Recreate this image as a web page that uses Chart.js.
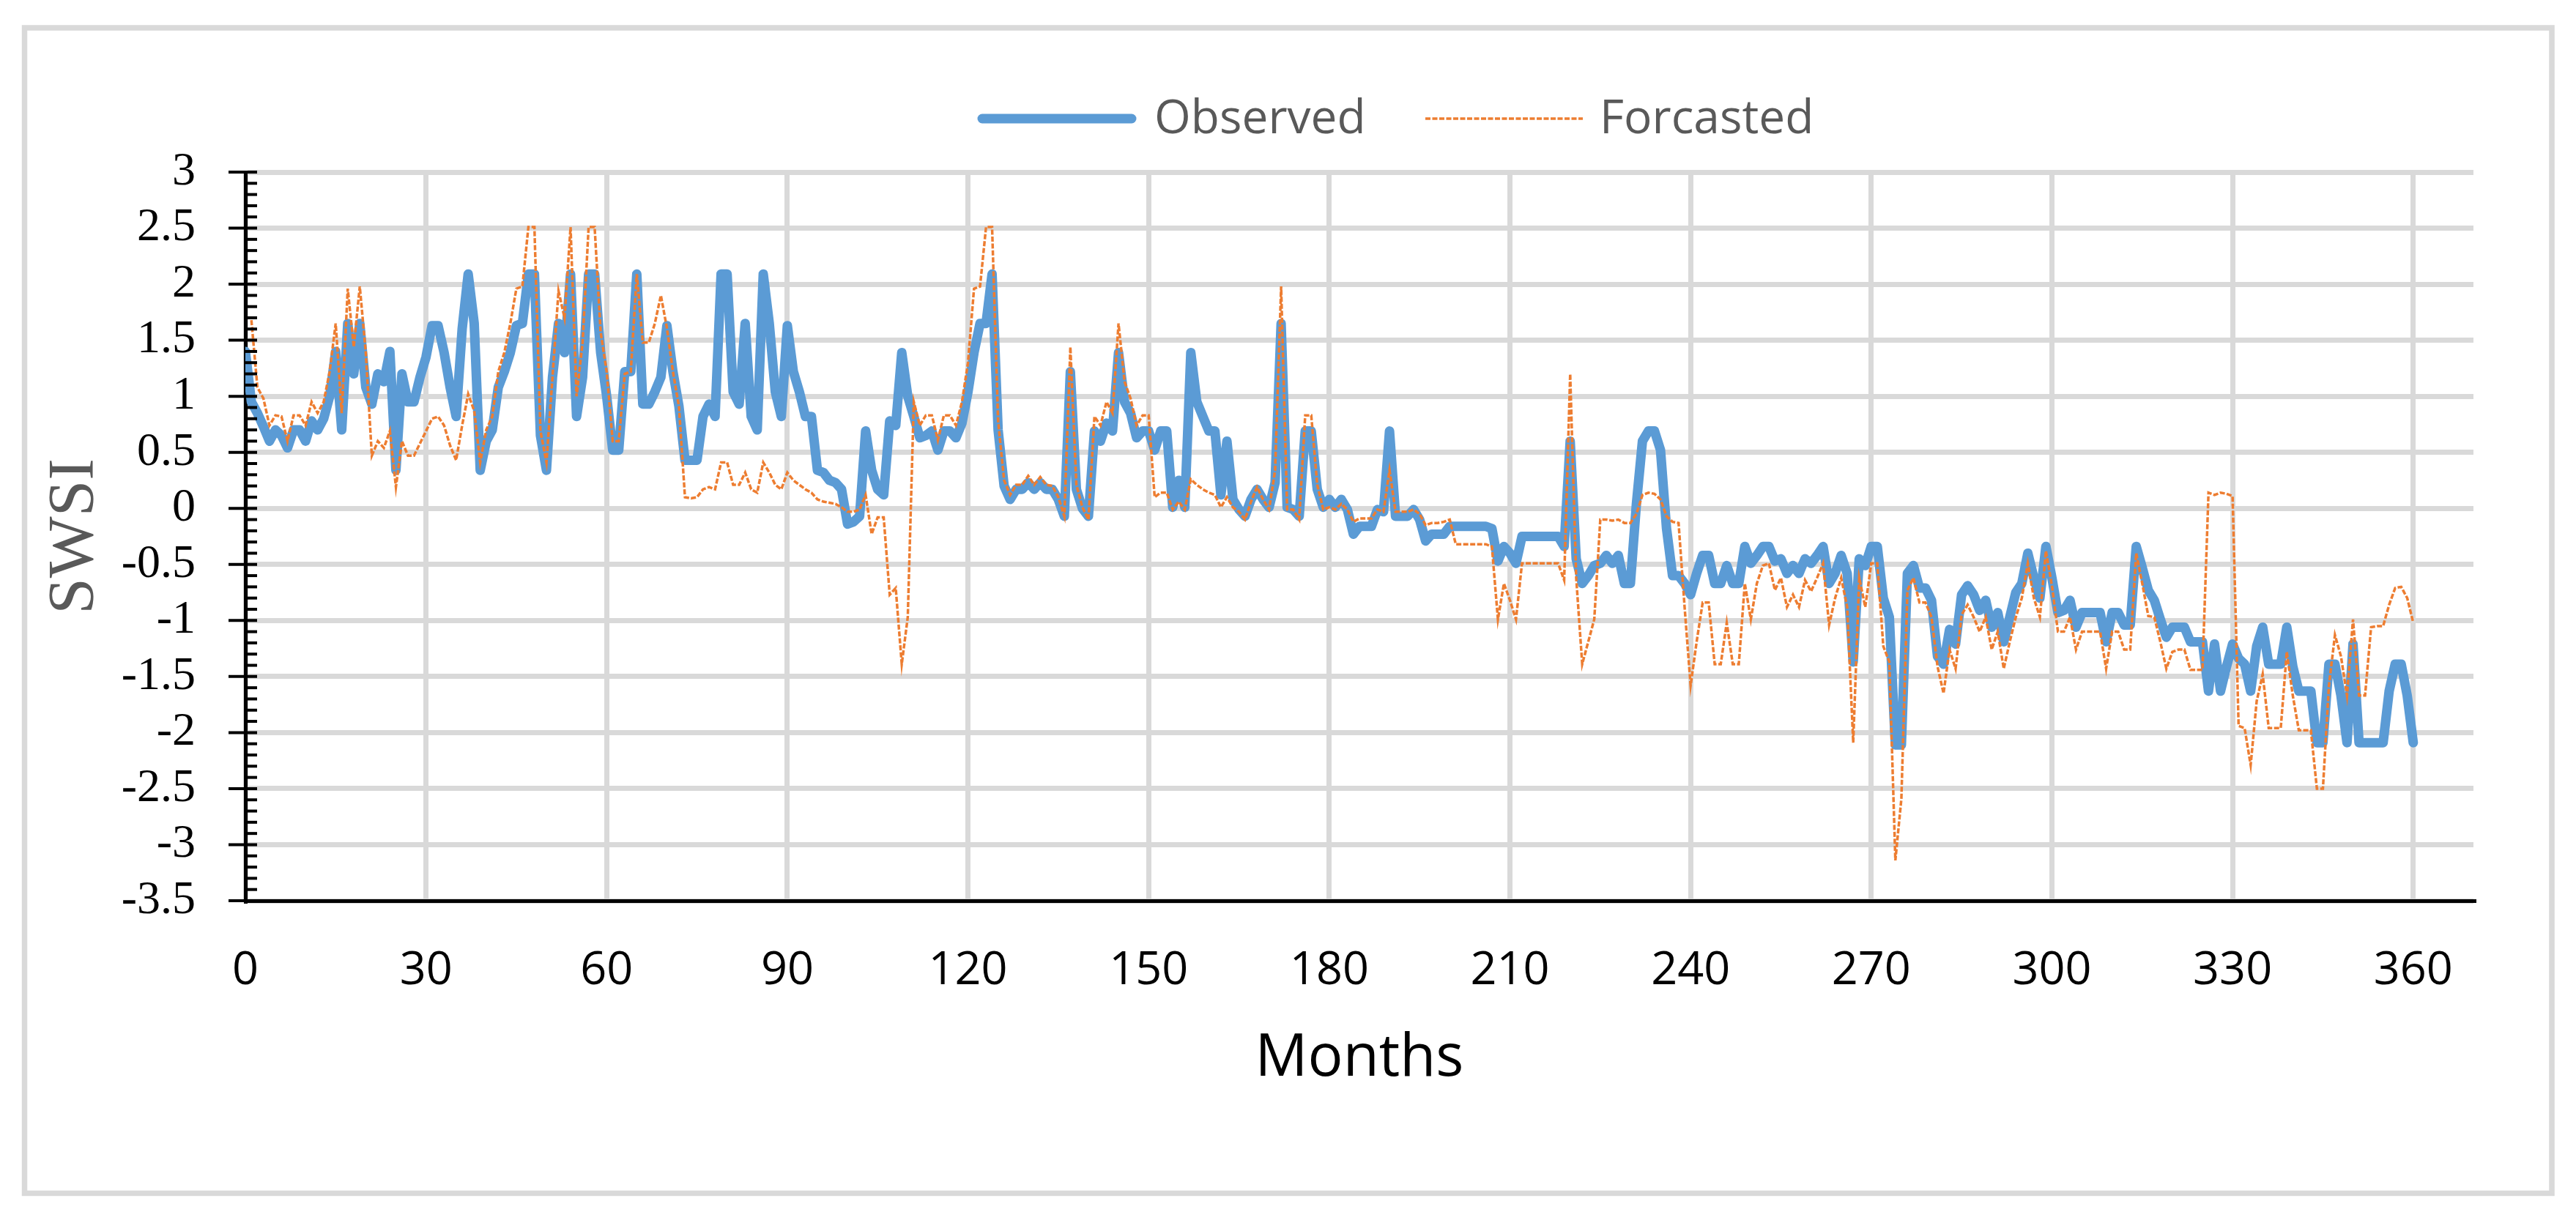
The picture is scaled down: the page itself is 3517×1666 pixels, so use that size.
<!DOCTYPE html>
<html>
<head>
<meta charset="utf-8">
<title>SWSI observed vs forcasted</title>
<script src="https://cdn.jsdelivr.net/npm/chart.js@4.4.1/dist/chart.umd.min.js"></script>
<style>
  html, body { margin: 0; padding: 0; background: #fff; }
  #wrap { width: 3517px; height: 1666px; }
</style>
</head>
<body>
<div id="wrap"><canvas id="swsiChart" width="3517" height="1666"></canvas></div>
<script>
// months 0..360
const months = Array.from({ length: 361 }, (_, i) => i);

const xTicks = [0, 30, 60, 90, 120, 150, 180, 210, 240, 270, 300, 330, 360];
const yTicks = [3, 2.5, 2, 1.5, 1, 0.5, 0, -0.5, -1, -1.5, -2, -2.5, -3, -3.5];

const observed = [
  1.4, 0.95, 0.85, 0.73, 0.6, 0.7, 0.65, 0.54, 0.7, 0.7,            // 0
  0.6, 0.78, 0.7, 0.8, 1.0, 1.4, 0.7, 1.65, 1.2, 1.65,              // 10
  1.08, 0.93, 1.2, 1.13, 1.4, 0.34, 1.2, 0.95, 0.95, 1.17,          // 20
  1.35, 1.63, 1.63, 1.39, 1.08, 0.82, 1.6, 2.09, 1.65, 0.34,        // 30
  0.6, 0.7, 1.08, 1.22, 1.39, 1.63, 1.65, 2.09, 2.09, 0.65,         // 40
  0.34, 1.17, 1.65, 1.39, 2.09, 0.82, 1.17, 2.09, 2.09, 1.39,       // 50
  1.0, 0.52, 0.52, 1.22, 1.22, 2.09, 0.93, 0.93, 1.04, 1.17,        // 60
  1.63, 1.22, 0.91, 0.43, 0.43, 0.43, 0.82, 0.93, 0.82, 2.09,       // 70
  2.09, 1.04, 0.93, 1.65, 0.82, 0.7, 2.09, 1.65, 1.04, 0.82,        // 80
  1.63, 1.22, 1.04, 0.82, 0.82, 0.34, 0.32, 0.25, 0.23, 0.17,       // 90
  -0.14, -0.12, -0.07, 0.69, 0.34, 0.17, 0.12, 0.78, 0.74, 1.39,    // 100
  1.0, 0.82, 0.63, 0.65, 0.69, 0.52, 0.69, 0.69, 0.63, 0.76,        // 110
  1.04, 1.39, 1.65, 1.65, 2.09, 0.7, 0.2, 0.08, 0.17, 0.17,         // 120
  0.23, 0.17, 0.23, 0.17, 0.17, 0.08, -0.07, 1.22, 0.17, 0.0,       // 130
  -0.07, 0.69, 0.6, 0.76, 0.69, 1.39, 0.95, 0.85, 0.63, 0.69,       // 140
  0.69, 0.52, 0.69, 0.69, 0.01, 0.25, 0.01, 1.39, 0.95, 0.82,       // 150
  0.69, 0.69, 0.12, 0.6, 0.08, -0.01, -0.07, 0.08, 0.17, 0.08,      // 160
  0.01, 0.23, 1.65, 0.01, -0.01, -0.07, 0.69, 0.69, 0.17, 0.01,     // 170
  0.08, 0.01, 0.08, -0.01, -0.23, -0.16, -0.16, -0.16, -0.01, -0.03, // 180
  0.69, -0.07, -0.07, -0.07, -0.01, -0.1, -0.29, -0.23, -0.23, -0.23, // 190
  -0.16, -0.16, -0.16, -0.16, -0.16, -0.16, -0.16, -0.18, -0.47, -0.34, // 200
  -0.4, -0.49, -0.25, -0.25, -0.25, -0.25, -0.25, -0.25, -0.25, -0.34, // 210
  0.6, -0.45, -0.67, -0.6, -0.51, -0.49, -0.42, -0.49, -0.42, -0.67,  // 220
  -0.67, 0.04, 0.6, 0.69, 0.69, 0.52, -0.18, -0.6, -0.6, -0.67,       // 230
  -0.77, -0.58, -0.42, -0.42, -0.67, -0.67, -0.51, -0.67, -0.67, -0.34, // 240
  -0.49, -0.42, -0.34, -0.34, -0.47, -0.45, -0.58, -0.51, -0.58, -0.45, // 250
  -0.49, -0.42, -0.34, -0.67, -0.58, -0.42, -0.58, -1.37, -0.45, -0.51, // 260
  -0.34, -0.34, -0.8, -0.97, -2.11, -2.11, -0.58, -0.51, -0.71, -0.71,  // 270
  -0.82, -1.32, -1.39, -1.08, -1.21, -0.77, -0.69, -0.77, -0.91, -0.82, // 280
  -1.06, -0.93, -1.19, -0.97, -0.75, -0.67, -0.4, -0.62, -0.8, -0.34,   // 290
  -0.62, -0.93, -0.91, -0.82, -1.06, -0.93, -0.93, -0.93, -0.93, -1.19, // 300
  -0.93, -0.93, -1.04, -1.04, -0.34, -0.53, -0.73, -0.82, -0.99, -1.15, // 310
  -1.06, -1.06, -1.06, -1.19, -1.19, -1.19, -1.63, -1.21, -1.63, -1.41, // 320
  -1.21, -1.34, -1.39, -1.63, -1.23, -1.06, -1.39, -1.39, -1.39, -1.06, // 330
  -1.41, -1.63, -1.63, -1.63, -2.09, -2.09, -1.39, -1.39, -1.67, -2.09, // 340
  -1.21, -2.09, -2.09, -2.09, -2.09, -2.09, -1.63, -1.39, -1.39, -1.67, // 350
  -2.09                                                                  // 360
];

const forcasted = [
  null, 1.68, 1.08, 0.98, 0.74, 0.83, 0.82, 0.6, 0.83, 0.83,          // 0
  0.74, 0.95, 0.85, 0.95, 1.22, 1.65, 0.85, 1.96, 1.44, 1.98,         // 10
  1.39, 0.47, 0.6, 0.54, 0.69, 0.19, 0.6, 0.47, 0.47, 0.58,           // 20
  0.69, 0.8, 0.82, 0.74, 0.56, 0.43, 0.74, 1.02, 0.87, 0.41,          // 30
  0.7, 0.82, 1.22, 1.39, 1.65, 1.96, 1.98, 2.51, 2.51, 0.69,          // 40
  0.41, 1.17, 1.94, 1.7, 2.51, 1.0, 1.48, 2.51, 2.51, 1.57,           // 50
  1.22, 0.6, 0.6, 1.2, 1.22, 2.09, 1.48, 1.48, 1.65, 1.9,             // 60
  1.61, 1.22, 0.91, 0.1, 0.09, 0.1, 0.17, 0.19, 0.17, 0.41,           // 70
  0.41, 0.21, 0.21, 0.32, 0.17, 0.14, 0.41, 0.32, 0.21, 0.17,         // 80
  0.32, 0.25, 0.21, 0.17, 0.14, 0.08, 0.06, 0.05, 0.04, 0.01,         // 90
  -0.03, -0.03, -0.01, 0.12, -0.23, -0.08, -0.08, -0.77, -0.71, -1.39, // 100
  -0.97, 0.95, 0.74, 0.83, 0.83, 0.61, 0.83, 0.83, 0.74, 0.95,        // 110
  1.3, 1.96, 1.98, 2.51, 2.51, 0.78, 0.25, 0.12, 0.21, 0.21,          // 120
  0.29, 0.21, 0.28, 0.21, 0.2, 0.1, -0.07, 1.44, 0.21, 0.01,          // 130
  -0.1, 0.82, 0.74, 0.95, 0.85, 1.65, 1.13, 0.98, 0.74, 0.83,         // 140
  0.83, 0.1, 0.14, 0.14, -0.01, 0.06, -0.01, 0.26, 0.21, 0.17,        // 150
  0.14, 0.12, 0.01, 0.1, 0.01, -0.03, -0.1, 0.06, 0.19, 0.08,         // 160
  -0.01, 0.34, 1.98, -0.01, -0.01, -0.1, 0.83, 0.83, 0.21, -0.01,     // 170
  0.01, -0.01, 0.04, -0.01, -0.12, -0.09, -0.09, -0.09, -0.01, -0.03, // 180
  0.34, -0.03, -0.03, -0.03, -0.01, -0.05, -0.15, -0.13, -0.13, -0.12, // 190
  -0.1, -0.32, -0.32, -0.32, -0.32, -0.32, -0.32, -0.34, -0.99, -0.67, // 200
  -0.82, -0.99, -0.49, -0.49, -0.49, -0.49, -0.49, -0.49, -0.49, -0.64, // 210
  1.2, -0.62, -1.39, -1.19, -0.99, -0.1, -0.1, -0.11, -0.1, -0.13,    // 220
  -0.13, -0.05, 0.12, 0.14, 0.13, 0.08, -0.07, -0.12, -0.13, -0.88,   // 230
  -1.58, -1.19, -0.84, -0.84, -1.39, -1.39, -1.02, -1.39, -1.39, -0.67, // 240
  -0.99, -0.67, -0.51, -0.49, -0.73, -0.62, -0.88, -0.77, -0.88, -0.64, // 250
  -0.74, -0.62, -0.49, -1.04, -0.8, -0.62, -0.88, -2.09, -0.62, -0.88,  // 260
  -0.49, -0.49, -1.23, -1.37, -3.14, -2.59, -0.73, -0.62, -0.84, -0.84, // 270
  -0.97, -1.41, -1.65, -1.26, -1.43, -0.95, -0.86, -0.97, -1.1, -0.97,  // 280
  -1.26, -1.1, -1.43, -1.19, -0.97, -0.8, -0.49, -0.8, -0.97, -0.38,    // 290
  -0.69, -1.1, -1.1, -0.97, -1.26, -1.1, -1.1, -1.1, -1.1, -1.43,       // 300
  -1.1, -1.1, -1.26, -1.26, -0.4, -0.67, -0.96, -0.97, -1.19, -1.43,    // 310
  -1.28, -1.26, -1.26, -1.44, -1.44, -1.44, 0.14, 0.12, 0.14, 0.13,     // 320
  0.11, -1.94, -1.96, -2.29, -1.72, -1.48, -1.96, -1.96, -1.96, -1.28,  // 330
  -1.67, -1.98, -1.98, -1.98, -2.5, -2.5, -1.58, -1.13, -1.32, -1.67,   // 340
  -0.99, -1.67, -1.67, -1.06, -1.05, -1.05, -0.86, -0.71, -0.7, -0.8,   // 350
  -1.02                                                                  // 360
];

const BLUE = '#5b9bd5';
const ORANGE = '#ed7d31';
const GRID = '#d9d9d9';

function toPoints(values) {
  return months.map((m, i) => ({ x: m, y: values[i] }));
}

// white page + light grey frame round the whole figure
const framePlugin = {
  id: 'frame',
  beforeDraw(chart) {
    const ctx = chart.ctx;
    ctx.save();
    ctx.fillStyle = '#fff';
    ctx.fillRect(0, 0, chart.width, chart.height);
    ctx.strokeStyle = GRID;
    ctx.lineWidth = 7.5;
    ctx.strokeRect(33.5, 38, 3484 - 33.5, 1629.5 - 38);
    ctx.restore();
  }
};

// black tick marks on the y axis: majors cross the axis, minors every 0.1 inside
const axisTicksPlugin = {
  id: 'axisTicks',
  afterDraw(chart) {
    const ctx = chart.ctx;
    const yScale = chart.scales.y;
    const x0 = chart.chartArea.left;
    ctx.save();
    ctx.strokeStyle = '#000';
    ctx.lineWidth = 4;
    for (let i = 0; i <= 65; i++) {
      const py = yScale.getPixelForValue(-3.5 + i / 10);
      ctx.beginPath();
      ctx.moveTo(i % 5 === 0 ? x0 - 23 : x0, py);
      ctx.lineTo(x0 + 16, py);
      ctx.stroke();
    }
    ctx.restore();
  }
};

// legend drawn like the Excel one: line sample + grey label
const legendPlugin = {
  id: 'swsiLegend',
  afterDraw(chart) {
    const ctx = chart.ctx;
    const y = 162;
    ctx.save();
    ctx.lineCap = 'round';
    ctx.strokeStyle = BLUE;
    ctx.lineWidth = 13;
    ctx.beginPath();
    ctx.moveTo(1341, y);
    ctx.lineTo(1545, y);
    ctx.stroke();

    ctx.lineCap = 'butt';
    ctx.strokeStyle = ORANGE;
    ctx.lineWidth = 3.5;
    ctx.setLineDash([7, 2.5]);
    ctx.beginPath();
    ctx.moveTo(1946, y);
    ctx.lineTo(2161, y);
    ctx.stroke();
    ctx.setLineDash([]);

    ctx.fillStyle = '#595959';
    ctx.font = '64px "Open Sans"';
    ctx.textBaseline = 'middle';
    ctx.textAlign = 'left';
    ctx.fillText('Observed', 1576, y + 2);
    ctx.fillText('Forcasted', 2184, y + 2);
    ctx.restore();
  }
};

const ctx = document.getElementById('swsiChart').getContext('2d');
const swsiChart = new Chart(ctx, {
  type: 'line',
  data: {
    datasets: [{
      label: 'Forcasted',
      data: toPoints(forcasted),
      borderColor: ORANGE,
      borderWidth: 3.5,
      borderDash: [7, 2.5],
      pointRadius: 0,
      tension: 0,
      fill: false,
      order: 0
    }, {
      label: 'Observed',
      data: toPoints(observed),
      borderColor: BLUE,
      borderWidth: 13,
      borderJoinStyle: 'round',
      borderCapStyle: 'round',
      pointRadius: 0,
      tension: 0,
      fill: false,
      order: 1
    }]
  },
  options: {
    responsive: false,
    animation: false,
    devicePixelRatio: 1,
    events: [],
    layout: { padding: { left: 45, top: 235, right: 140, bottom: 168 } },
    plugins: {
      legend: { display: false },
      tooltip: { enabled: false }
    },
    scales: {
      x: {
        type: 'linear',
        min: 0,
        max: 370,
        afterBuildTicks: s => { s.ticks = xTicks.map(v => ({ value: v })); },
        afterFit: s => { s.height = 268; },
        grid: { color: GRID, lineWidth: 7, drawTicks: false },
        border: { color: '#000', width: 5 },
        ticks: {
          padding: 58,
          autoSkip: false,
          color: '#000',
          font: { family: 'Open Sans', size: 63 },
          maxRotation: 0,
          callback: v => String(v)
        },
        title: {
          display: true,
          text: 'Months',
          color: '#000',
          font: { family: 'Open Sans', size: 80 }
        }
      },
      y: {
        type: 'linear',
        min: -3.5,
        max: 3,
        afterBuildTicks: s => { s.ticks = yTicks.map(v => ({ value: v })); },
        afterFit: s => { s.width = 290; },
        grid: { color: GRID, lineWidth: 7, drawTicks: false },
        border: { color: '#000', width: 5 },
        ticks: {
          padding: 68,
          autoSkip: false,
          color: '#000',
          font: { family: 'Liberation Serif', size: 64, lineHeight: 1 },
          callback: v => String(Number(v.toFixed(1)))
        },
        title: {
          display: true,
          text: 'SWSI',
          color: '#595959',
          font: { family: 'Liberation Serif', size: 89 }
        }
      }
    }
  },
  plugins: [framePlugin, axisTicksPlugin, legendPlugin]
});
</script>
</body>
</html>
